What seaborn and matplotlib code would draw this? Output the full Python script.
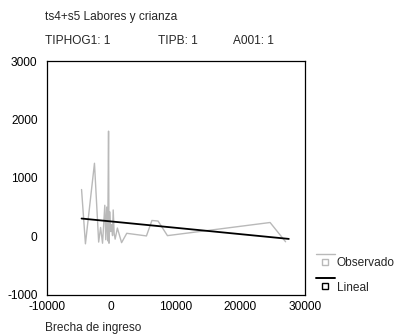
import matplotlib
matplotlib.use("Agg")
import matplotlib.pyplot as plt
import seaborn as sns
import pandas as pd
from matplotlib.legend_handler import HandlerBase
from matplotlib.lines import Line2D
from matplotlib.patches import Rectangle

# ---- data ----
obs_x = [-4600, -4000, -2600, -1950, -1650, -1350, -1000, -850, -700, -550,
         -420, -350, -250, -100, 50, 200, 300, 450, 600, 950,
         1600, 2400, 5450, 6300, 7250, 8700, 24600, 27000]
obs_y = [800, -130, 1250, -100, 150, -120, 530, -60, 500, -80,
         1800, -120, 420, 80, 200, 10, 450, 50, -50, 140,
         -110, 50, 5, 270, 260, 10, 235, -95]
lin_x = [-4600, 27500]
lin_y = [303, -46]

title = "ts4+s5 Labores y crianza"
filters = ["TIPHOG1: 1", "TIPB: 1", "A001: 1"]
xlabel = "Brecha de ingreso"
legend_labels = ["Observado", "Lineal"]
x_ticks = [-10000, 0, 10000, 20000, 30000]
y_ticks = [-1000, 0, 1000, 2000, 3000]

sns.set_style("white")
plt.rcParams["font.family"] = ["Liberation Sans", "DejaVu Sans"]

FS = 8.6
GRAY = "#b9b9b9"

fig = plt.figure(figsize=(3.94, 3.34), dpi=100)
ax = fig.add_axes([0.1185, 0.118, 0.6555, 0.699])

df_obs = pd.DataFrame({"x": obs_x, "y": obs_y})
df_lin = pd.DataFrame({"x": lin_x, "y": lin_y})
sns.lineplot(data=df_obs, x="x", y="y", ax=ax, color=GRAY, lw=1.0,
             sort=False, estimator=None)
sns.lineplot(data=df_lin, x="x", y="y", ax=ax, color="black", lw=1.3,
             sort=False, estimator=None)

ax.set_xlim(-10000, 30000)
ax.set_ylim(-1000, 3000)
ax.set_xticks(x_ticks)
ax.set_yticks(y_ticks)
ax.set_xticklabels([str(v) for v in x_ticks])
ax.set_yticklabels([str(v) for v in y_ticks])
ax.set_xlabel("")
ax.set_ylabel("")
for s in ax.spines.values():
    s.set_visible(True)
    s.set_color("black")
    s.set_linewidth(0.9)
ax.tick_params(axis="both", which="major", direction="out", length=3,
               width=0.8, colors="black", labelsize=FS)
ax.tick_params(axis="y", pad=3.6)
ax.tick_params(axis="x", pad=1.3)

fig.text(0.114, 1 - 17 / 334, title, fontsize=FS, va="center", ha="left")
for xp, t in zip([45, 158, 233], filters):
    fig.text(xp / 394, 1 - 41 / 334, t, fontsize=FS, va="center", ha="left")
fig.text(0.114, 1 - 328 / 334, xlabel, fontsize=FS, va="center", ha="left")


class LineOverBox(HandlerBase):
    def create_artists(self, legend, orig_handle, xdescent, ydescent,
                       width, height, fontsize, trans):
        c = orig_handle.get_color()
        lw = orig_handle.get_linewidth()
        ln = Line2D([-xdescent, -xdescent + width],
                    [height * 1.45, height * 1.45],
                    color=c, lw=lw, transform=trans)
        sq = 4.3
        rect = Rectangle((-xdescent + width * 0.35, height * 0.5 - sq / 2 - ydescent),
                         sq, sq, fill=False, edgecolor=c, lw=1.0,
                         transform=trans)
        return [ln, rect]


h1 = Line2D([], [], color=GRAY, lw=1.0)
h2 = Line2D([], [], color="black", lw=1.4)
fig.legend([h1, h2], legend_labels, handler_map={Line2D: LineOverBox()},
           loc="upper left", bbox_to_anchor=(316 / 394, 1 - 257 / 334),
           frameon=False, fontsize=FS, handlelength=1.55, handletextpad=0.2,
           labelspacing=1.05, borderpad=0, borderaxespad=0)

fig.savefig("out.png", dpi=100)
